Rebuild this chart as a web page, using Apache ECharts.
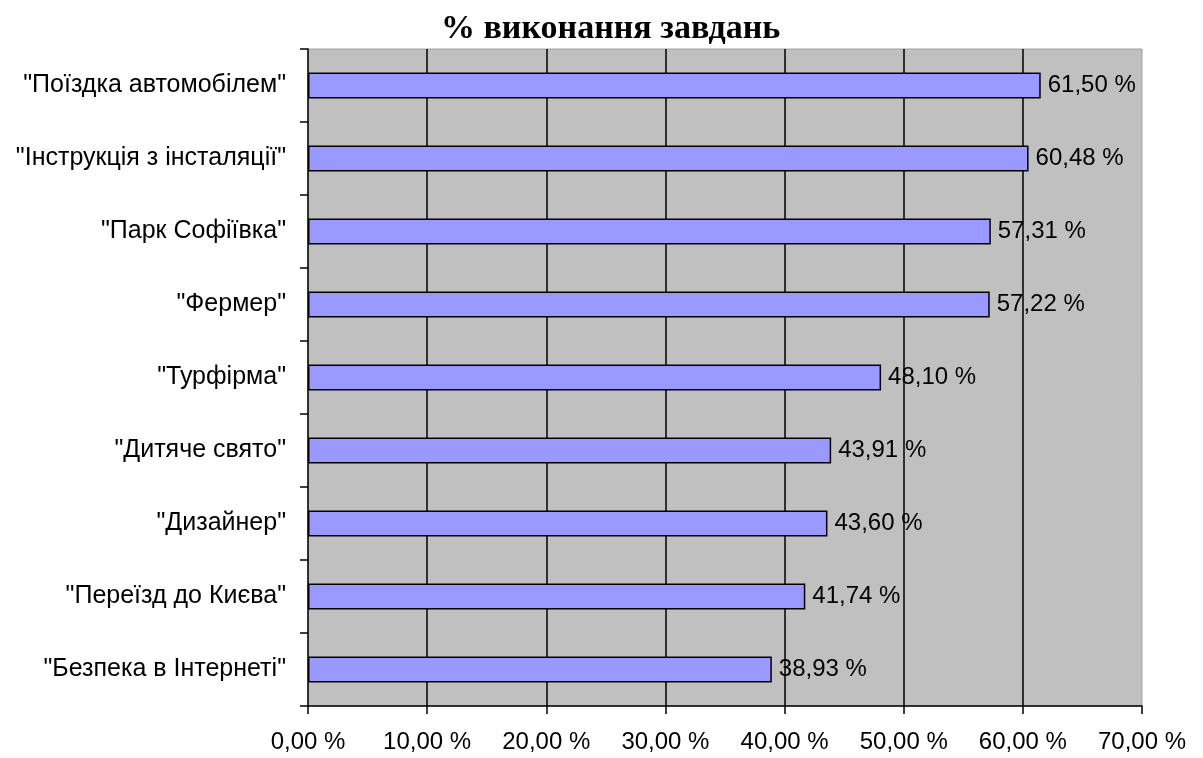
<!DOCTYPE html>
<html>
<head>
<meta charset="utf-8">
<script src="https://cdn.jsdelivr.net/npm/echarts@6/dist/echarts.min.js"></script>
<style>
html,body{margin:0;padding:0;background:#fff;}
#chart{width:1203px;height:758px;}
</style>
</head>
<body>
<div id="chart"></div>
<script>
const categories = ['"Поїздка автомобілем"', '"Інструкція з інсталяції"', '"Парк Софіївка"', '"Фермер"', '"Турфірма"', '"Дитяче свято"', '"Дизайнер"', '"Переїзд до Києва"', '"Безпека в Інтернеті"'];
const values = [61.50, 60.48, 57.31, 57.22, 48.10, 43.91, 43.60, 41.74, 38.93];
const titleText = '% виконання завдань';

const fmt = v => v.toFixed(2).replace('.', ',') + ' %';

const chart = echarts.init(document.getElementById('chart'));
chart.setOption({
  animation: false,
  backgroundColor: '#fff',
  title: {
    text: titleText,
    left: 436,
    top: 7,
    textStyle: {fontFamily: 'Liberation Serif', fontWeight: 'bold', fontSize: 34, color: '#000'}
  },
  grid: {
    left: 308, right: 61, top: 49, bottom: 52,
    show: true, backgroundColor: '#C0C0C0', borderColor: '#A0A0A0', borderWidth: 1
  },
  xAxis: {
    type: 'value', min: 0, max: 70, interval: 10,
    axisLine: {show: true, lineStyle: {color: '#000', width: 1.5}},
    axisTick: {show: true, length: 8, lineStyle: {color: '#000', width: 1.5}},
    splitLine: {show: true, showMinLine: false, showMaxLine: false, lineStyle: {color: '#000', width: 1.5}},
    axisLabel: {formatter: v => fmt(v), color: '#000', fontFamily: 'Liberation Sans', fontSize: 24, margin: 24}
  },
  yAxis: {
    type: 'category', data: categories, inverse: true,
    axisLine: {show: true, lineStyle: {color: '#000', width: 1.5}},
    axisTick: {show: true, length: 8, lineStyle: {color: '#000', width: 1.5}},
    axisLabel: {color: '#000', fontFamily: 'Liberation Sans', fontSize: 25, margin: 22}
  },
  series: [{
    type: 'bar', data: values, barWidth: 26,
    itemStyle: {color: '#9999FF', borderColor: '#000', borderWidth: 1.5},
    label: {show: true, position: 'right', distance: 7, formatter: p => fmt(p.value), color: '#000', fontFamily: 'Liberation Sans', fontSize: 24}
  }]
});
</script>
</body>
</html>
